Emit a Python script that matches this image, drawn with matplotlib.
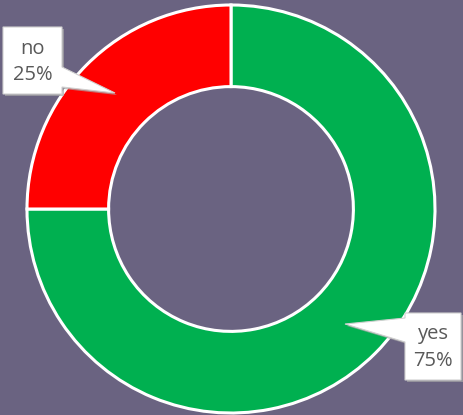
import matplotlib
matplotlib.use("Agg")
import matplotlib.pyplot as plt
from matplotlib.patches import Polygon

labels = ["yes", "no"]
values = [75, 25]
colors = ["#00B050", "#FF0000"]

W, H = 464, 415
BG = "#6A6381"

fig = plt.figure(figsize=(W / 100, H / 100), dpi=100, facecolor=BG)
ax = fig.add_axes([0, 0, 1, 1])
ax.set_facecolor(BG)

def Y(y):
    return H - y

cx, cy, R = 231, Y(209), 204
ax.pie(values, colors=colors, startangle=90, counterclock=False,
       center=(cx, cy), radius=R,
       wedgeprops=dict(width=R * 0.4, edgecolor="white", linewidth=2.2))

ax.set_xlim(0, W)
ax.set_ylim(0, H)
ax.set_aspect("equal")
ax.axis("off")

def callout(pts, text, tx, ty):
    shadow = [(x + 2, Y(y + 2)) for x, y in pts]
    ax.add_patch(Polygon(shadow, closed=True, facecolor="#a8a8a8", edgecolor="none", alpha=0.7, zorder=5))
    ax.add_patch(Polygon([(x, Y(y)) for x, y in pts], closed=True, facecolor="white",
                         edgecolor="#d0d0d0", linewidth=0.8, zorder=6))
    ax.text(tx, Y(ty), text, ha="center", va="center", fontsize=14.5, color="#595959",
            family=["Open Sans", "DejaVu Sans"], linespacing=1.4, zorder=7)

# "no" callout: box with pointer on the right side
no_pts = [(3, 27), (62, 27), (62, 67), (115, 93), (62, 87), (62, 94), (3, 94)]
callout(no_pts, f"{labels[1]}\n{values[1]}%", 32.5, 62)

# "yes" callout: box with pointer on the left side
yes_pts = [(405, 313), (461, 313), (461, 380), (405, 380), (405, 342), (345, 324), (405, 318)]
callout(yes_pts, f"{labels[0]}\n{values[0]}%", 433, 347.5)

fig.savefig("out.png", dpi=100, facecolor=BG)
